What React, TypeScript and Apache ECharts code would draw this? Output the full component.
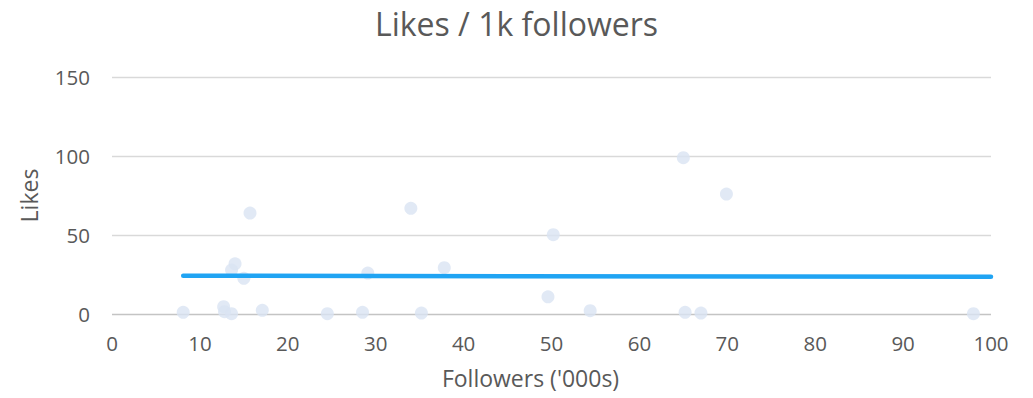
import React, { useEffect, useRef } from "react";
import * as echarts from "echarts";

// Followers (thousands) and likes per post
const followers = [8.1, 12.7, 12.8, 13.6, 14.0, 13.6, 15.0, 15.7, 17.1, 24.5, 28.5, 29.1, 34.0, 35.2, 37.8, 50.2, 49.6, 54.4, 65.0, 65.2, 67.0, 69.9, 98.0];
const likes = [1.1, 4.6, 1.5, 0.2, 31.8, 27.8, 22.6, 63.9, 2.3, 0.2, 1.1, 25.9, 66.9, 0.6, 29.3, 50.2, 10.9, 2.1, 98.9, 1.1, 0.6, 75.9, 0.2];

// Linear trend line end points
const trendX = [8.1, 100];
const trendY = [24.2, 23.6];

const FONT = "'Open Sans', sans-serif";
const TEXT = "#595959";

export default function App() {
  const ref = useRef<HTMLDivElement>(null);

  useEffect(() => {
    document.body.style.margin = "0";
    const chart = echarts.init(ref.current!, undefined, { renderer: "svg" });
    chart.setOption({
      animation: false,
      backgroundColor: "#ffffff",
      title: {
        text: "Likes / 1k followers",
        left: "center",
        top: 2,
        padding: [5, 19, 5, 5],
        textStyle: { fontFamily: FONT, fontSize: 32, fontWeight: "normal", color: TEXT },
      },
      grid: { left: 112, right: 42, top: 77, bottom: 84 },
      xAxis: {
        type: "value",
        min: 0,
        max: 100,
        interval: 10,
        name: "Followers ('000s)",
        nameLocation: "middle",
        nameGap: 52,
        nameTextStyle: { fontFamily: FONT, fontSize: 23, color: TEXT, padding: [0, 42, 0, 0] },
        axisLine: { show: false },
        axisTick: { show: false },
        splitLine: { show: false },
        axisLabel: { fontFamily: FONT, fontSize: 20.5, color: TEXT, margin: 18 },
      },
      yAxis: {
        type: "value",
        min: 0,
        max: 150,
        interval: 50,
        name: "Likes",
        nameLocation: "middle",
        nameRotate: 90,
        nameGap: 72,
        nameTextStyle: { fontFamily: FONT, fontSize: 23, color: TEXT },
        axisLine: { show: false },
        axisTick: { show: false },
        splitLine: {
          show: true,
          lineStyle: { color: ["#c4c4c4", "#d9d9d9", "#d9d9d9", "#d9d9d9"], width: 1.3 },
        },
        axisLabel: { fontFamily: FONT, fontSize: 20.5, color: TEXT, margin: 22 },
      },
      series: [
        {
          type: "scatter",
          data: followers.map((x, i) => [x, likes[i]]),
          symbol: "circle",
          symbolSize: 13,
          itemStyle: { color: "#dae3f3" },
        },
        {
          type: "line",
          data: trendX.map((x, i) => [x, trendY[i]]),
          symbol: "none",
          lineStyle: { color: "#20a4f3", width: 4.5, cap: "round" },
          z: 3,
        },
      ],
    });
    return () => chart.dispose();
  }, []);

  return <div ref={ref} style={{ width: 1033, height: 398 }} />;
}
